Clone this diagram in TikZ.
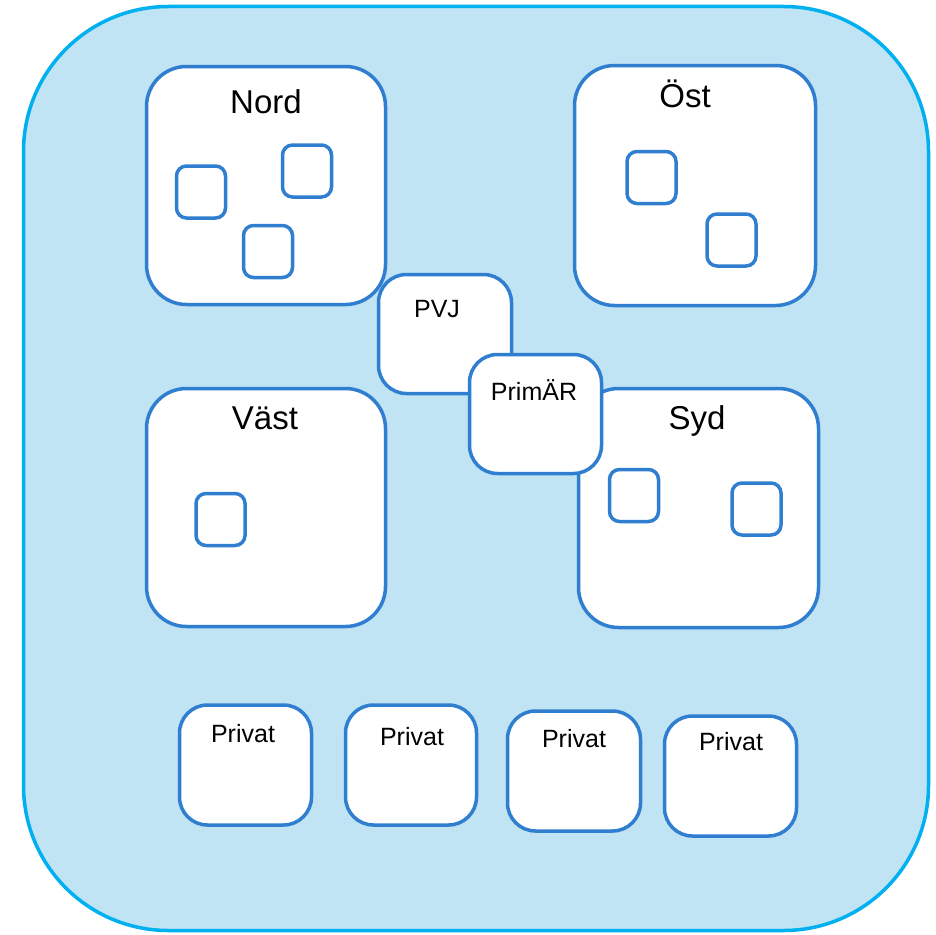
\documentclass[tikz,border=0pt]{standalone}
\usepackage{fontspec}
\setmainfont{Liberation Sans}
\usetikzlibrary{positioning}

\definecolor{rim}{RGB}{0,176,240}
\definecolor{pond}{RGB}{192,228,244}
\definecolor{edge}{RGB}{47,126,208}

\tikzset{
  region/.style={draw=edge, line width=3.5pt, fill=white, rounded corners=40pt, inner sep=0pt},
  unit/.style={draw=edge, line width=3.5pt, fill=white, rounded corners=28pt, minimum width=132pt, minimum height=120pt, inner sep=0pt},
  clinic/.style={draw=edge, line width=3.5pt, fill=white, rounded corners=10pt, minimum width=49pt, minimum height=52pt, inner sep=0pt},
  bigname/.style={anchor=base, font=\fontsize{33}{40}\selectfont},
  smallname/.style={anchor=base, font=\fontsize{25}{30}\selectfont}
}

\begin{document}
\begin{tikzpicture}[x=1pt,y=-1pt]
    \useasboundingbox (0,0) rectangle (936,934);
    % outer area
    \node[draw=rim, line width=3.5pt, fill=pond, rounded corners=145pt, minimum width=905pt, minimum height=924pt] (area) at (476,468.5) {};

    % regions
    \node[region, minimum width=239pt, minimum height=238pt] (nord) at (266,185.5) {};
    \node[region, minimum width=241pt, minimum height=240pt] (ost) at (695,185.5) {};
    \node[region, minimum width=239pt, minimum height=238pt] (vast) at (266,507.5) {};
    \node[region, minimum width=240pt, minimum height=239pt] (syd) at (698.5,508) {};
    \node[bigname] (nordname) at (266,113) {Nord};
    \node[bigname] (ostname) at (685,107) {Öst};
    \node[bigname] (vastname) at (265,429) {Väst};
    \node[bigname] (sydname) at (697,429) {Syd};

    % clinics
    \node[clinic] (nord1) at (201,192) {};
    \node[clinic] (nord2) at (307,171) {};
    \node[clinic] (nord3) at (268,251.5) {};
    \node[clinic] (ost1) at (651.5,177.5) {};
    \node[clinic] (ost2) at (731.5,240) {};
    \node[clinic] (vast1) at (220.5,519.5) {};
    \node[clinic] (syd1) at (634,495.5) {};
    \node[clinic] (syd2) at (756.5,509) {};

    % pvj and primar
    \node[unit, minimum width=133pt, minimum height=119pt] (pvj) at (445,334) {};
    \node[smallname] (pvjname) at (437,317) {PVJ};
    \node[unit, minimum width=132pt, minimum height=119pt] (primar) at (535.5,414) {};
    \node[smallname] (primarname) at (534,400) {PrimÄR};

    % private
    \node[unit] (privat1) at (245.5,765) {};
    \node[unit, minimum width=131pt] (privat2) at (411,765) {};
    \node[unit, minimum width=133pt] (privat3) at (574,771) {};
    \node[unit] (privat4) at (730.5,776) {};
    \node[smallname] (privat1name) at (243,742) {Privat};
    \node[smallname] (privat2name) at (412,745) {Privat};
    \node[smallname] (privat3name) at (574,747) {Privat};
    \node[smallname] (privat4name) at (731,750) {Privat};
\end{tikzpicture}
\end{document}
